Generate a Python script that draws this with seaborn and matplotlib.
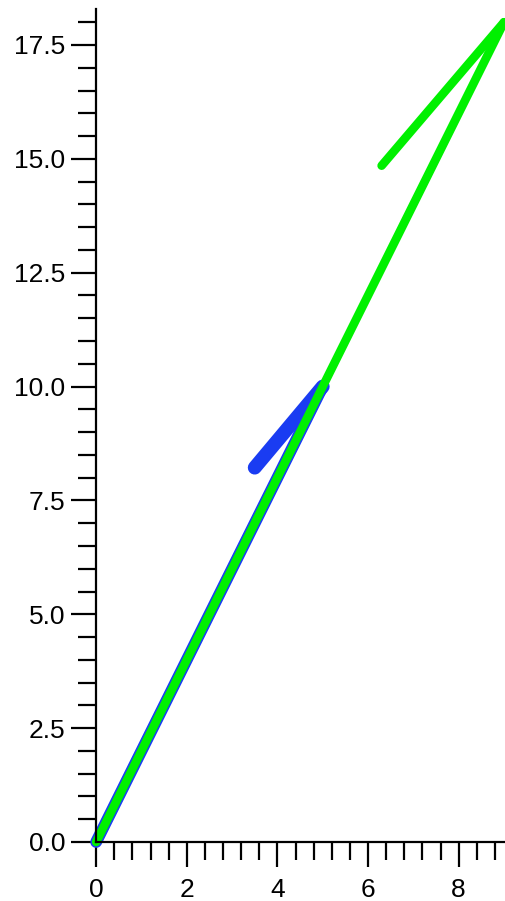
import matplotlib
matplotlib.use("Agg")
import matplotlib.pyplot as plt
from matplotlib.ticker import MultipleLocator, FormatStrFormatter
import seaborn as sns
import pandas as pd

sns.set_style("ticks")
plt.rcParams["font.family"] = ["Liberation Sans", "DejaVu Sans"]

# arrow shafts: tail -> head
blue_shaft_x = [0, 5]
blue_shaft_y = [0, 10]
green_shaft_x = [0, 9]
green_shaft_y = [0, 18]

# single barb on each head: head -> barb end
blue_barb_x = [5, 3.5]
blue_barb_y = [10, 8.22]
green_barb_x = [9, 6.3]
green_barb_y = [18, 14.85]

blue = "#1a3cf2"
green = "#00f000"

fig = plt.figure(figsize=(5.06, 9.01), dpi=100)
ax = fig.add_axes([0.19, 0.0655, 0.806, 0.925])


def seg(x, y):
    return pd.DataFrame({"x": x, "y": y})


line_kw = dict(x="x", y="y", sort=False, estimator=None, ax=ax, legend=False)

sns.lineplot(data=seg(blue_shaft_x, blue_shaft_y), color=blue, linewidth=8.5,
             solid_capstyle="round", zorder=3, **line_kw)
sns.lineplot(data=seg(blue_barb_x, blue_barb_y), color=blue, linewidth=10,
             solid_capstyle="round", zorder=3, **line_kw)
sns.lineplot(data=seg(green_shaft_x, green_shaft_y), color=green, linewidth=6.2,
             solid_capstyle="round", zorder=4, **line_kw)
sns.lineplot(data=seg(green_barb_x, green_barb_y), color=green, linewidth=6.2,
             solid_capstyle="round", zorder=4, **line_kw)

for ln in ax.lines:
    ln.set_clip_on(False)

ax.set_xlim(0, 9)
ax.set_ylim(0, 18.3)
ax.set_xlabel("")
ax.set_ylabel("")

ax.spines["top"].set_visible(False)
ax.spines["right"].set_visible(False)
for s in ("left", "bottom"):
    ax.spines[s].set_linewidth(1.6)
    ax.spines[s].set_color("black")
    ax.spines[s].set_zorder(5)

ax.xaxis.set_major_locator(MultipleLocator(2))
ax.xaxis.set_minor_locator(MultipleLocator(0.4))
ax.yaxis.set_major_locator(MultipleLocator(2.5))
ax.yaxis.set_minor_locator(MultipleLocator(0.5))
ax.yaxis.set_major_formatter(FormatStrFormatter("%.1f"))

ax.tick_params(which="major", length=18, width=1.6, labelsize=19, pad=4,
               direction="out", color="black", labelcolor="black")
ax.tick_params(axis="x", which="major", pad=8)
ax.tick_params(which="minor", length=13, width=1.6, direction="out", color="black")

fig.savefig("out.png", dpi=100)
plt.close(fig)
